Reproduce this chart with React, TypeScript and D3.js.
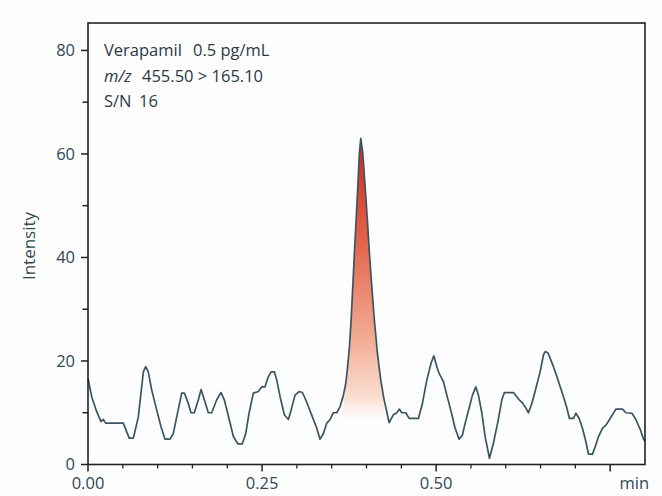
import * as d3 from 'd3'

// Chromatogram trace (time in min, intensity)
const times = [
  0.0, 0.0053, 0.0125, 0.0187, 0.022, 0.0254, 0.0507, 0.0556, 0.0593, 0.0651,
  0.0723, 0.0795, 0.0829, 0.0866, 0.0915, 0.0987, 0.1049, 0.1106, 0.1178, 0.1226,
  0.1274, 0.1346, 0.1384, 0.1432, 0.148, 0.1527, 0.1585, 0.1624, 0.1671, 0.1728,
  0.1777, 0.1849, 0.1911, 0.1958, 0.203, 0.2088, 0.2151, 0.2217, 0.2266, 0.2313,
  0.2375, 0.2447, 0.2496, 0.2543, 0.2582, 0.2629, 0.2677, 0.2711, 0.2759, 0.282,
  0.2878, 0.2917, 0.2974, 0.3032, 0.3079, 0.3118, 0.3165, 0.3223, 0.3286, 0.3333,
  0.3381, 0.343, 0.3477, 0.3524, 0.3573, 0.3621, 0.3668, 0.37, 0.3722, 0.3754,
  0.3779, 0.3803, 0.3826, 0.3851, 0.3875, 0.3898, 0.3918, 0.3947, 0.398, 0.4013,
  0.4042, 0.4076, 0.4113, 0.4157, 0.4205, 0.4253, 0.4325, 0.4386, 0.4435, 0.4473,
  0.4507, 0.4565, 0.4612, 0.4746, 0.4803, 0.4866, 0.4928, 0.4967, 0.501, 0.5043,
  0.5105, 0.5154, 0.5216, 0.5273, 0.533, 0.5378, 0.5417, 0.5474, 0.5522, 0.557,
  0.5608, 0.5657, 0.5704, 0.5766, 0.5823, 0.5886, 0.5944, 0.5981, 0.6111, 0.6159,
  0.6193, 0.624, 0.6289, 0.6326, 0.6375, 0.6432, 0.6494, 0.6542, 0.6566, 0.6605,
  0.6638, 0.6685, 0.6734, 0.6782, 0.6829, 0.6878, 0.6915, 0.6973, 0.7007, 0.7055,
  0.7102, 0.7151, 0.7188, 0.7246, 0.7284, 0.7332, 0.7389, 0.7438, 0.7486, 0.7533,
  0.7582, 0.7677, 0.7726, 0.7812, 0.7869, 0.7931, 0.7979, 0.8,
]
const intensity = [
  16.7, 13.1, 10.2, 8.3, 8.7, 8.0, 8.0, 6.3, 5.1, 5.1,
  9.2, 17.9, 18.9, 17.9, 14.4, 10.5, 7.3, 4.9, 4.9, 6.0,
  9.2, 13.8, 13.8, 12.1, 10.0, 10.0, 12.5, 14.5, 12.5, 10.0,
  10.0, 12.5, 13.9, 12.5, 8.6, 5.4, 4.0, 4.0, 6.0, 9.9,
  13.8, 14.1, 15.0, 15.0, 16.7, 17.9, 17.9, 16.3, 13.1, 9.6,
  8.7, 10.5, 13.4, 14.1, 13.9, 12.8, 11.2, 9.2, 7.0, 4.9,
  6.0, 8.0, 8.7, 10.0, 10.0, 11.2, 13.4, 15.5, 18.0, 22.5,
  27.9, 34.4, 40.8, 47.2, 53.7, 60.1, 63.0, 60.1, 53.7, 47.2,
  40.8, 34.4, 27.9, 21.5, 16.3, 12.5, 8.1, 9.6, 10.0, 10.7,
  10.0, 10.0, 8.9, 8.9, 11.8, 16.3, 19.6, 21.0, 18.9, 17.6,
  16.0, 13.4, 10.2, 7.0, 4.9, 5.7, 8.0, 10.9, 13.4, 15.0,
  13.4, 9.9, 5.4, 1.2, 4.1, 8.2, 12.5, 13.9, 13.9, 13.1,
  12.5, 11.9, 10.9, 10.0, 11.8, 14.7, 17.9, 21.2, 21.8, 21.6,
  20.5, 18.9, 17.0, 15.0, 13.1, 10.9, 8.9, 8.9, 9.9, 8.9,
  7.0, 4.4, 2.0, 2.0, 3.4, 5.4, 7.0, 7.6, 8.6, 9.6,
  10.7, 10.7, 10.0, 9.9, 8.7, 6.8, 4.9, 4.5,
]

const yMajor = [0, 20, 40, 60, 80]
const yMinor = [10, 30, 50, 70]
const xMajor = [0, 0.25, 0.5, 0.75]
const xMinor = d3.range(0.05, 0.8, 0.05).filter(v => Math.abs(v * 4 - Math.round(v * 4)) > 1e-6)
const xLabels = ['0.00', '0.25', '0.50']
const peakWindow = [0.366, 0.428]

const W = 662
const H = 496
const left = 88
const right = 645
const top = 23
const bottom = 464.5

const FONT = '"Open Sans", "Noto Sans", sans-serif'
const TEXT = '#2f4754'

export default function App() {
  const x = d3.scaleLinear().domain([0, 0.8]).range([left, right])
  const y = d3.scaleLinear().domain([0, 85.3]).range([bottom, top])

  const data = times.map((t, i) => ({ t, v: intensity[i] }))

  const line = d3.line<{ t: number; v: number }>()
    .x(d => x(d.t))
    .y(d => y(d.v))

  const area = d3.area<{ t: number; v: number }>()
    .x(d => x(d.t))
    .y0(y(6))
    .y1(d => y(d.v))

  const peakData = data.filter(d => d.t >= peakWindow[0] && d.t <= peakWindow[1])
  const peakTop = d3.max(peakData, d => d.v) as number

  return (
    <svg width={W} height={H} style={{ position: 'absolute', left: 0, top: 0 }}>
      <defs>
        <linearGradient id="peakFill" gradientUnits="userSpaceOnUse" x1={0} x2={0} y1={y(peakTop)} y2={y(7)}>
          <stop offset="0" stopColor="#d2261a" />
          <stop offset="0.35" stopColor="#e2634a" />
          <stop offset="0.7" stopColor="#f2ae96" />
          <stop offset="0.9" stopColor="#fbe0d4" />
          <stop offset="1" stopColor="#fff" stopOpacity={0} />
        </linearGradient>
      </defs>
      <rect width={W} height={H} fill="#fdfdfe" />

      {/* peak fill */}
      <path d={area(peakData) || ''} fill="url(#peakFill)" />

      {/* trace */}
      <path d={line(data) || ''} fill="none" stroke="#3a5663" strokeWidth={1.7} strokeLinejoin="round" />

      {/* frame */}
      <rect x={left} y={top} width={right - left} height={bottom - top} fill="none" stroke="#1f2326" strokeWidth={1.6} />

      {/* y ticks */}
      {yMajor.map(v => (
        <g key={'ym' + v}>
          <line x1={left - 7} x2={left} y1={y(v)} y2={y(v)} stroke="#1f2326" strokeWidth={1.5} />
          <text x={left - 13} y={y(v)} dy="0.36em" textAnchor="end" fontFamily={FONT} fontSize={16.5} fill={TEXT}>
            {v}
          </text>
        </g>
      ))}
      {yMinor.map(v => (
        <line key={'yn' + v} x1={left - 5.5} x2={left} y1={y(v)} y2={y(v)} stroke="#1f2326" strokeWidth={1.5} />
      ))}

      {/* x ticks */}
      {xMajor.map(v => (
        <line key={'xm' + v} x1={x(v)} x2={x(v)} y1={bottom} y2={bottom + 7} stroke="#1f2326" strokeWidth={1.5} />
      ))}
      {xMinor.map(v => (
        <line key={'xn' + v} x1={x(v)} x2={x(v)} y1={bottom} y2={bottom + 4} stroke="#1f2326" strokeWidth={1.3} />
      ))}
      {xMajor.slice(0, xLabels.length).map((v, i) => (
        <text key={'xl' + v} x={x(v)} y={489} textAnchor="middle" fontFamily={FONT} fontSize={16.5} fill={TEXT}>
          {xLabels[i]}
        </text>
      ))}
      <text x={649} y={489} textAnchor="end" fontFamily={FONT} fontSize={16.5} fill={TEXT}>min</text>

      {/* y title */}
      <text
        transform={`translate(35,246) rotate(-90)`}
        textAnchor="middle"
        fontFamily={FONT}
        fontSize={17}
        fill={TEXT}
      >
        Intensity
      </text>

      {/* annotation */}
      <g fontFamily={FONT} fontSize={16.5} fill="#2a3a44">
        <text x={104} y={56}>
          Verapamil<tspan x={193}>0.5 pg/mL</tspan>
        </text>
        <text x={104} y={82}>
          <tspan fontStyle="italic">m/z</tspan>
          <tspan x={142}>455.50 &gt; 165.10</tspan>
        </text>
        <text x={104} y={107}>
          S/N<tspan x={139}>16</tspan>
        </text>
      </g>
    </svg>
  )
}
